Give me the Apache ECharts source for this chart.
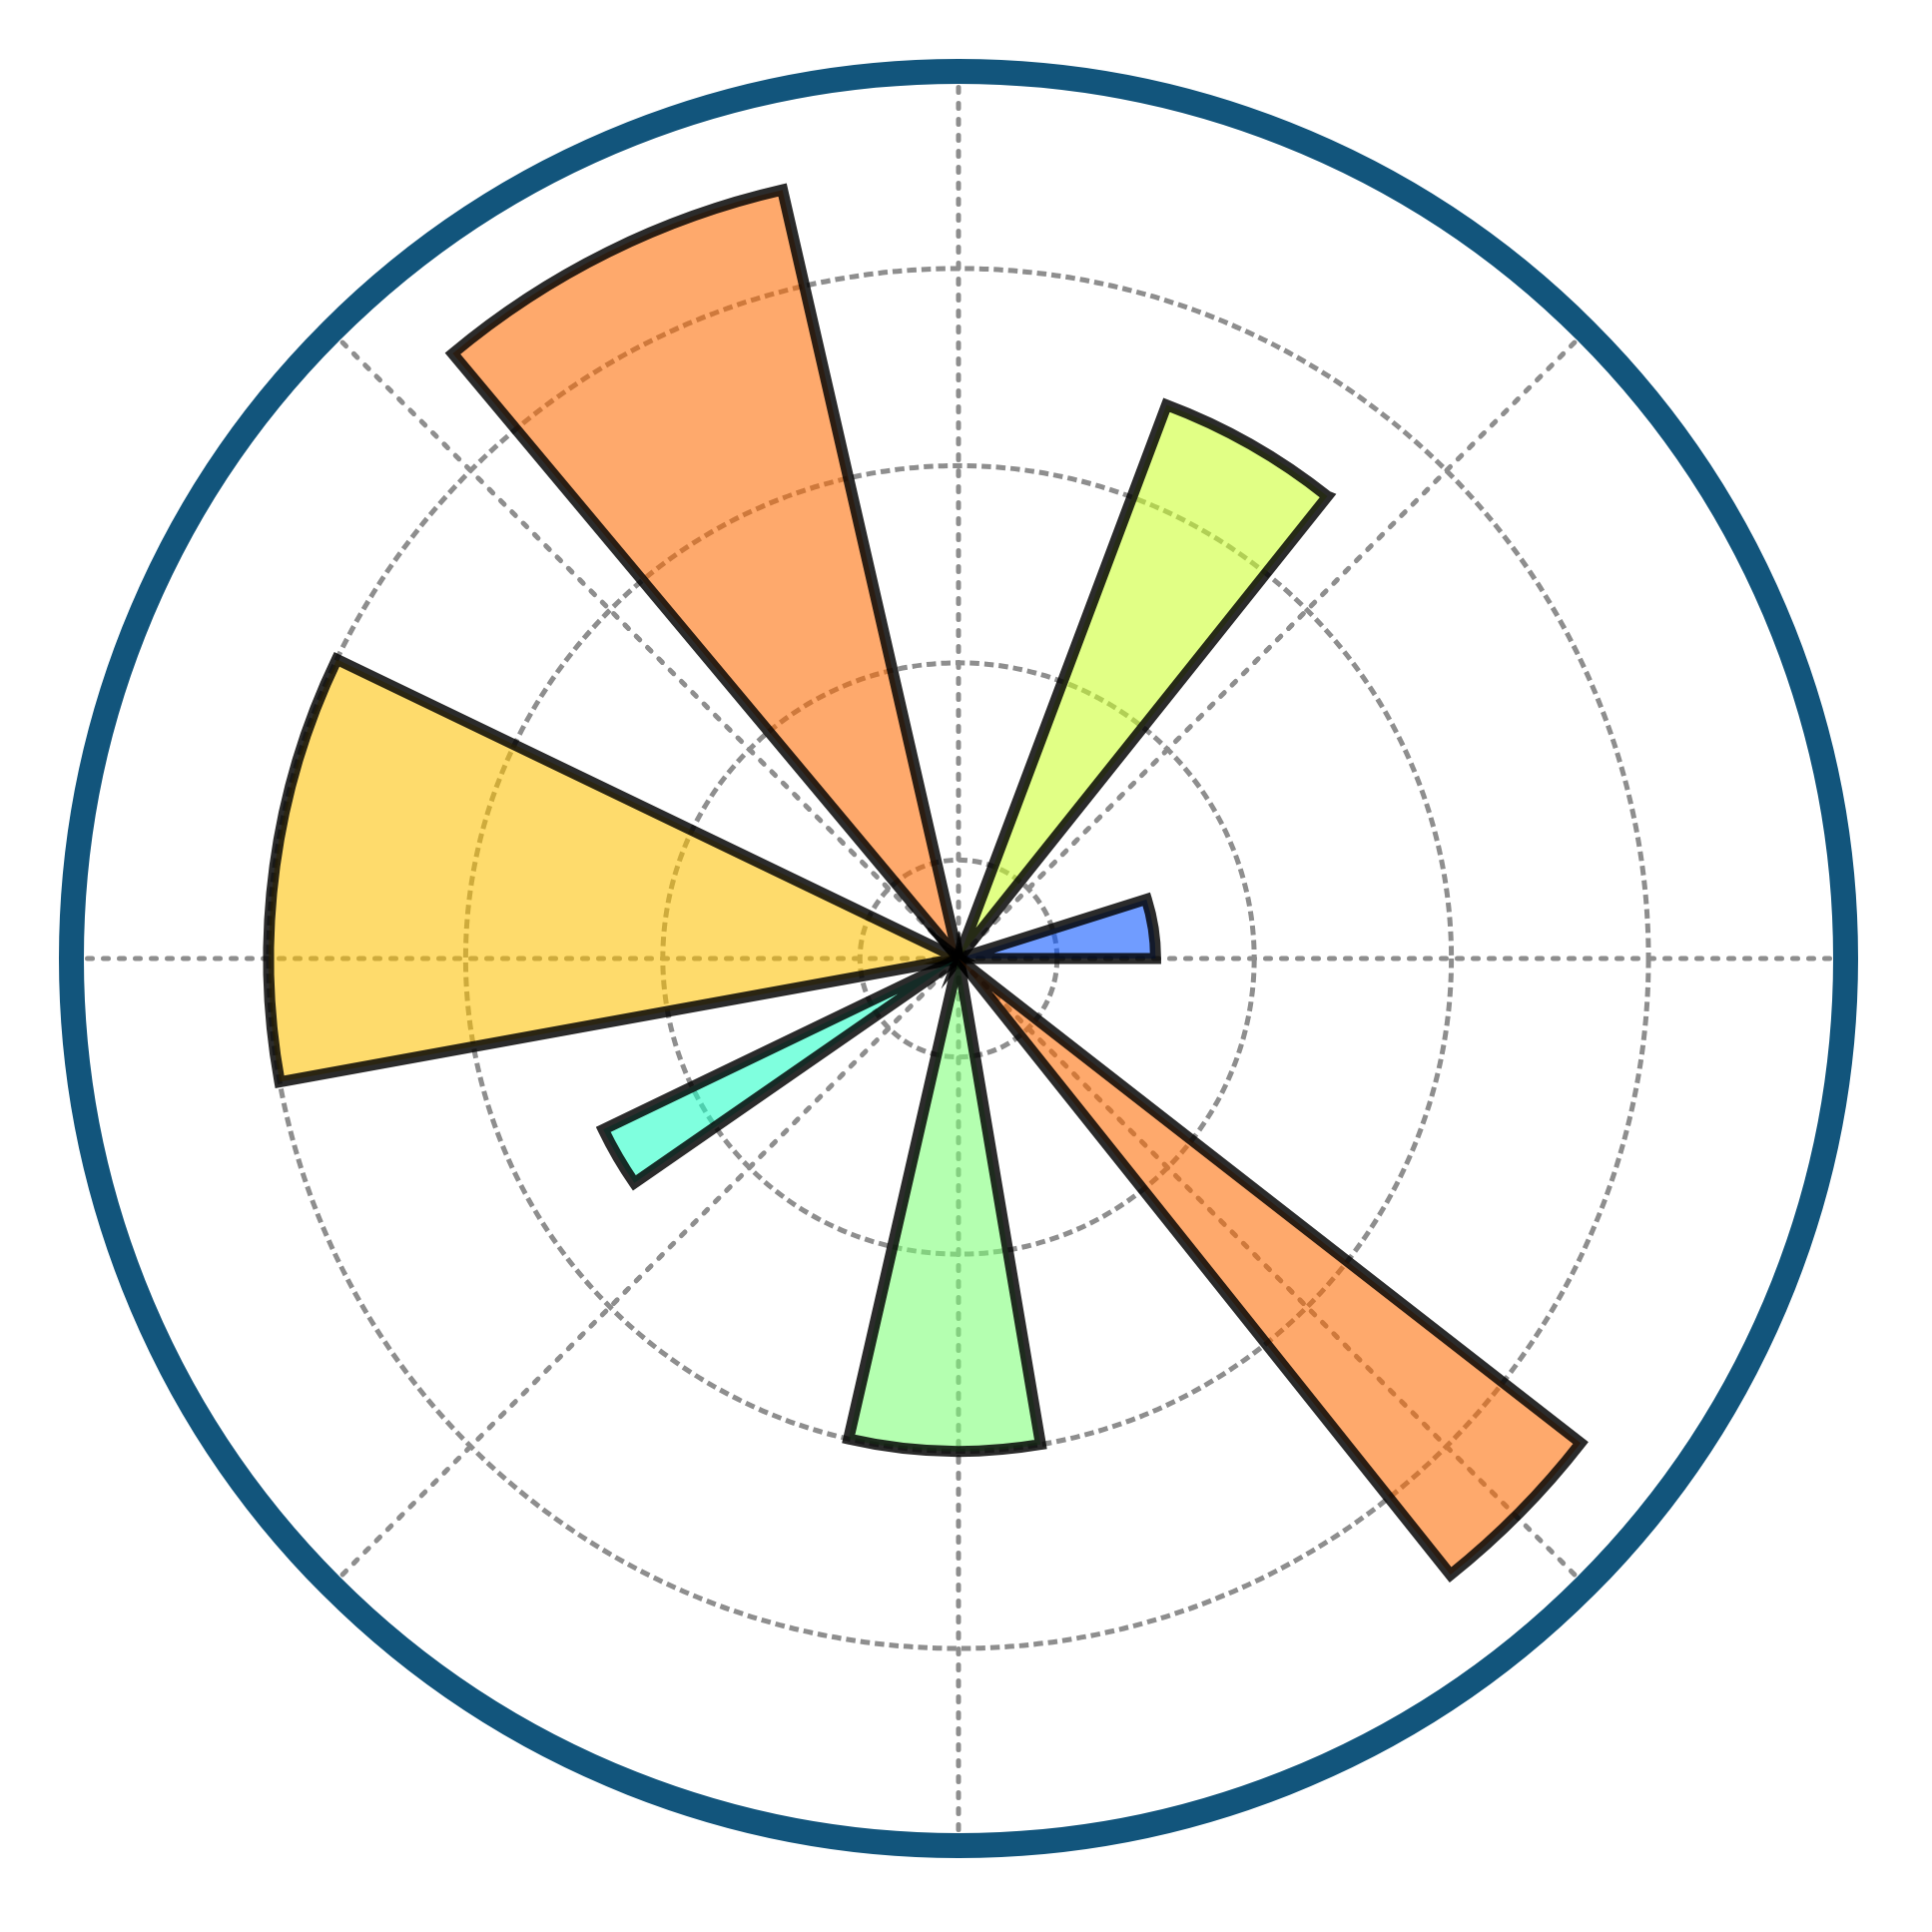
<!DOCTYPE html>
<html>
<head>
<meta charset="utf-8">
<script src="https://cdn.jsdelivr.net/npm/echarts@6/dist/echarts.min.js"></script>
<style>
  html, body { margin: 0; padding: 0; background: #ffffff; }
  #chart { width: 1935px; height: 1935px; }
</style>
</head>
<body>
<div id="chart"></div>
<script>
// Bar start angles (degrees, counter-clockwise from east)
const barStartAngles = [0, 51.4, 102.9, 154.3, 205.7, 257.1, 308.6];
// Bar angular widths (degrees)
const barWidths = [17.5, 18, 27, 36, 9, 22.5, 13.5];
// Bar radii
const barRadii = [2, 6, 8, 7, 4, 5, 8];
// Radial grid circle values
const radialTicks = [1, 3, 5, 7];

// Styles
const barColors = [
  'rgba(8,84,255,0.58)',
  'rgba(203,255,45,0.58)',
  'rgba(253,107,2,0.58)',
  'rgba(253,193,2,0.58)',
  'rgba(34,255,198,0.58)',
  'rgba(126,255,119,0.58)',
  'rgba(253,107,2,0.58)'
];

const data = barStartAngles.map((a, i) => [a, barWidths[i], barRadii[i]]);

const chart = echarts.init(document.getElementById('chart'), null, { renderer: 'canvas' });

chart.setOption({
  backgroundColor: '#ffffff',
  animation: false,
  polar: {
    center: [960, 960],
    radius: 888.5
  },
  angleAxis: {
    type: 'value',
    min: 0,
    max: 360,
    interval: 45,
    startAngle: 0,
    clockwise: false,
    axisLine: { show: true, lineStyle: { color: '#12557c', width: 25 } },
    axisTick: { show: false },
    axisLabel: { show: false },
    splitLine: {
      show: true,
      lineStyle: { color: '#8e8e8e', width: 5, type: [5, 11], cap: 'round' }
    }
  },
  radiusAxis: {
    type: 'value',
    min: 0,
    max: 9,
    axisLine: { show: false },
    axisTick: { show: false, customValues: radialTicks },
    axisLabel: { show: false, customValues: radialTicks },
    splitLine: {
      show: true,
      lineStyle: { color: '#8e8e8e', width: 5, type: [9.5, 5] }
    }
  },
  series: [{
    type: 'custom',
    coordinateSystem: 'polar',
    data: data,
    renderItem: function (params, api) {
      const t0 = api.value(0);
      const w = api.value(1);
      const r = api.value(2);
      const p0 = api.coord([r, t0]);
      const p1 = api.coord([r, t0 + w]);
      const cs = params.coordSys;
      return {
        type: 'sector',
        shape: {
          cx: cs.cx,
          cy: cs.cy,
          r0: 0,
          r: p0[2],
          startAngle: -p0[3],
          endAngle: -p1[3],
          clockwise: false
        },
        style: {
          fill: barColors[params.dataIndex],
          stroke: 'rgba(0,0,0,0.83)',
          lineWidth: 11,
          lineJoin: 'miter'
        }
      };
    }
  }]
});
</script>
</body>
</html>
